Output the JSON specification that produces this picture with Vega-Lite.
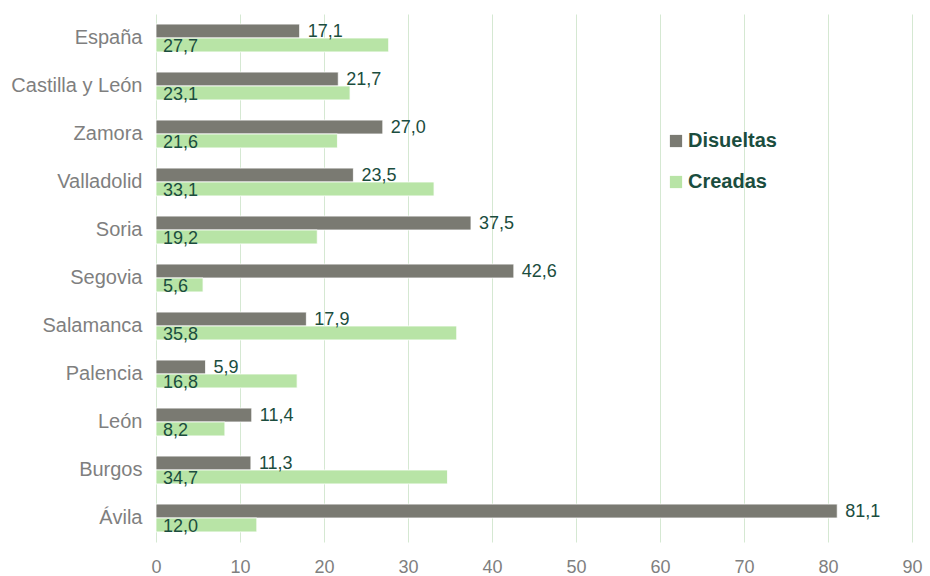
{
  "$schema": "https://vega.github.io/schema/vega-lite/v6.json",
  "width": 756,
  "height": 528,
  "autosize": {"type": "none"},
  "padding": {"left": 156, "top": 14, "right": 18, "bottom": 34},
  "background": "white",
  "config": {
    "view": {"stroke": null},
    "font": "Liberation Sans",
    "locale": {"number": {"decimal": ",", "thousands": ".", "grouping": [3], "currency": ["", " €"]}}
  },
  "data": {
    "values": [
      {"region": "España", "serie": "Disueltas", "valor": 17.1},
      {"region": "España", "serie": "Creadas", "valor": 27.7},
      {"region": "Castilla y León", "serie": "Disueltas", "valor": 21.7},
      {"region": "Castilla y León", "serie": "Creadas", "valor": 23.1},
      {"region": "Zamora", "serie": "Disueltas", "valor": 27.0},
      {"region": "Zamora", "serie": "Creadas", "valor": 21.6},
      {"region": "Valladolid", "serie": "Disueltas", "valor": 23.5},
      {"region": "Valladolid", "serie": "Creadas", "valor": 33.1},
      {"region": "Soria", "serie": "Disueltas", "valor": 37.5},
      {"region": "Soria", "serie": "Creadas", "valor": 19.2},
      {"region": "Segovia", "serie": "Disueltas", "valor": 42.6},
      {"region": "Segovia", "serie": "Creadas", "valor": 5.6},
      {"region": "Salamanca", "serie": "Disueltas", "valor": 17.9},
      {"region": "Salamanca", "serie": "Creadas", "valor": 35.8},
      {"region": "Palencia", "serie": "Disueltas", "valor": 5.9},
      {"region": "Palencia", "serie": "Creadas", "valor": 16.8},
      {"region": "León", "serie": "Disueltas", "valor": 11.4},
      {"region": "León", "serie": "Creadas", "valor": 8.2},
      {"region": "Burgos", "serie": "Disueltas", "valor": 11.3},
      {"region": "Burgos", "serie": "Creadas", "valor": 34.7},
      {"region": "Ávila", "serie": "Disueltas", "valor": 81.1},
      {"region": "Ávila", "serie": "Creadas", "valor": 12.0}
    ]
  },
  "encoding": {
    "y": {
      "field": "region",
      "type": "nominal",
      "sort": ["España", "Castilla y León", "Zamora", "Valladolid", "Soria", "Segovia", "Salamanca", "Palencia", "León", "Burgos", "Ávila"],
      "scale": {"paddingInner": 0.42, "paddingOuter": 0.21},
      "axis": {
        "title": null,
        "domain": false,
        "ticks": false,
        "labelFontSize": 20,
        "labelColor": "#7F7F7F",
        "labelPadding": 14,
        "labelFont": "Liberation Sans"
      }
    },
    "yOffset": {
      "field": "serie",
      "type": "nominal",
      "sort": ["Disueltas", "Creadas"],
      "scale": {"paddingInner": 0, "paddingOuter": 0}
    }
  },
  "layer": [
    {
      "mark": {"type": "bar", "stroke": "white", "strokeWidth": 0.8},
      "encoding": {
        "x": {
          "field": "valor",
          "type": "quantitative",
          "scale": {"domain": [0, 90], "nice": false},
          "axis": {
            "title": null,
            "values": [0, 10, 20, 30, 40, 50, 60, 70, 80, 90],
            "domain": false,
            "ticks": false,
            "grid": true,
            "gridColor": "#D5E8D2",
            "gridWidth": 1,
            "labelFontSize": 18,
            "labelColor": "#7F7F7F",
            "labelPadding": 16,
            "labelFlush": false,
            "labelOverlap": false,
            "labelFont": "Liberation Sans",
            "format": "d"
          }
        },
        "color": {
          "field": "serie",
          "type": "nominal",
          "scale": {"domain": ["Disueltas", "Creadas"], "range": ["#7A7A72", "#B8E4A6"]},
          "legend": {
            "title": null,
            "orient": "none",
            "legendX": 510,
            "legendY": 117,
            "symbolType": "square",
            "symbolSize": 150,
            "symbolStrokeWidth": 0,
            "labelFontSize": 20,
            "labelFontWeight": "bold",
            "labelColor": "#1B4D3E",
            "labelFont": "Liberation Sans",
            "rowPadding": 21,
            "labelOffset": 2
          }
        }
      }
    },
    {
      "transform": [{"filter": "datum.serie === 'Disueltas'"}],
      "mark": {"type": "text", "align": "left", "baseline": "middle", "dx": 8, "dy": 1, "fontSize": 18, "color": "#1B4D3E", "font": "Liberation Sans"},
      "encoding": {
        "x": {"field": "valor", "type": "quantitative"},
        "text": {"field": "valor", "type": "quantitative", "format": ".1f"}
      }
    },
    {
      "transform": [{"filter": "datum.serie === 'Creadas'"}],
      "mark": {"type": "text", "align": "left", "baseline": "middle", "dx": 7, "dy": 2, "fontSize": 18, "color": "#1B4D3E", "font": "Liberation Sans"},
      "encoding": {
        "x": {"datum": 0, "type": "quantitative"},
        "text": {"field": "valor", "type": "quantitative", "format": ".1f"}
      }
    }
  ]
}
